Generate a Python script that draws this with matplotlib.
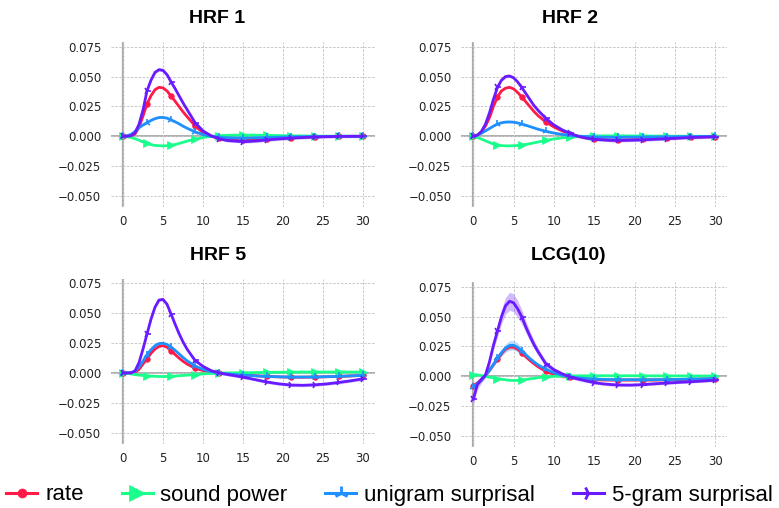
import matplotlib
matplotlib.use('Agg')
import matplotlib.pyplot as plt
import numpy as np

# time axis (s), shared by every panel
t = [0, 0.5, 1, 1.5, 2, 2.5, 3, 3.5, 4, 4.5, 5, 5.5, 6, 6.5, 7, 7.5, 8,
     9, 10, 11, 12, 13, 14, 15, 16, 17, 18, 19.5, 21, 22.5, 24, 25.5, 27, 28.5, 30]

series_names = ['rate', 'sound power', 'unigram surprisal', '5-gram surprisal']
panel_titles = ['HRF 1', 'HRF 2', 'HRF 5', 'LCG(10)']

hrf1_rate = [0, 0, 0.0003, 0.002, 0.0075, 0.017, 0.027, 0.034, 0.039, 0.041, 0.0405, 0.038, 0.0337, 0.0295, 0.025, 0.0205, 0.0165,
             0.0088, 0.003, 0.0, -0.0015, -0.0025, -0.003, -0.0033, -0.0031, -0.0027, -0.0022, -0.0016, -0.0011, -0.0007, -0.0004, -0.0002, -0.0001, 0, 0]
hrf1_sound = [0, -0.0003, -0.001, -0.002, -0.0033, -0.0047, -0.006, -0.007, -0.0076, -0.0079, -0.008, -0.0079, -0.0076, -0.0069, -0.006, -0.005, -0.004,
              -0.0025, -0.001, 0.0, 0.0005, 0.0008, 0.001, 0.001, 0.001, 0.0009, 0.0008, 0.0006, 0.0004, 0.0003, 0.0002, 0.0001, 0.0001, 0, 0]
hrf1_uni = [0, 0.0005, 0.0015, 0.004, 0.0072, 0.0095, 0.0114, 0.0133, 0.0148, 0.0157, 0.0158, 0.0152, 0.0138, 0.0122, 0.0105, 0.0085, 0.0068,
            0.0037, 0.0015, 0.0, -0.0007, -0.0012, -0.0014, -0.0015, -0.0014, -0.0012, -0.001, -0.0007, -0.0005, -0.0003, -0.0002, -0.0001, 0, 0, 0]
hrf1_5gram = [0, 0, 0.0005, 0.003, 0.010, 0.022, 0.038, 0.047, 0.0535, 0.0558, 0.0552, 0.0516, 0.0457, 0.040, 0.034, 0.028, 0.0225,
              0.0115, 0.0045, 0.0005, -0.002, -0.0035, -0.004, -0.0045, -0.0042, -0.0037, -0.003, -0.0022, -0.0015, -0.001, -0.0006, -0.0003, -0.0001, 0, 0]

hrf2_rate = [0, 0.001, 0.0035, 0.0085, 0.0155, 0.025, 0.033, 0.038, 0.0403, 0.041, 0.0397, 0.0367, 0.033, 0.029, 0.025, 0.021, 0.0175,
             0.012, 0.0078, 0.0045, 0.002, 0.0, -0.0013, -0.0022, -0.0027, -0.003, -0.003, -0.0028, -0.0025, -0.002, -0.0016, -0.0012, -0.0008, -0.0005, -0.0003]
hrf2_sound = [0, -0.001, -0.0023, -0.0038, -0.0052, -0.0064, -0.0073, -0.0078, -0.008, -0.008, -0.0079, -0.0077, -0.0073, -0.0068, -0.0062, -0.0055, -0.0048,
              -0.0034, -0.0022, -0.0013, -0.0008, -0.0003, 0.0, 0.0003, 0.0004, 0.0004, 0.0004, 0.0003, 0.0003, 0.0002, 0.0001, 0.0001, 0, 0, 0]
hrf2_uni = [0, 0.001, 0.0025, 0.0045, 0.0065, 0.0085, 0.0103, 0.0113, 0.0119, 0.012, 0.0118, 0.0112, 0.0103, 0.0093, 0.0082, 0.0071, 0.006,
            0.0042, 0.0027, 0.0016, 0.0008, 0.0002, -0.0002, -0.0005, -0.0007, -0.0008, -0.0008, -0.0007, -0.0006, -0.0005, -0.0004, -0.0003, -0.0002, -0.0001, -0.0001]
hrf2_5gram = [0, 0.001, 0.004, 0.010, 0.0195, 0.031, 0.041, 0.047, 0.050, 0.0505, 0.049, 0.0455, 0.041, 0.036, 0.031, 0.026, 0.022,
              0.015, 0.0095, 0.0055, 0.0025, 0.0, -0.0015, -0.0025, -0.003, -0.0034, -0.0035, -0.0033, -0.003, -0.0025, -0.002, -0.0015, -0.001, -0.0007, -0.0004]

hrf5_rate = [0, 0, 0, 0.0007, 0.003, 0.0075, 0.012, 0.0165, 0.020, 0.0222, 0.0228, 0.0215, 0.0186, 0.0155, 0.0125, 0.0098, 0.0075,
             0.004, 0.002, 0.0008, 0.0, -0.0005, -0.001, -0.0015, -0.002, -0.0025, -0.0029, -0.0033, -0.0035, -0.0035, -0.0034, -0.0032, -0.0029, -0.0025, -0.002]
hrf5_sound = [0, -0.0003, -0.0008, -0.0013, -0.0018, -0.0021, -0.0023, -0.0026, -0.0028, -0.0029, -0.003, -0.0029, -0.0028, -0.0026, -0.0023, -0.0021, -0.0018,
              -0.0013, -0.0008, -0.0004, -0.0002, 0, 0.0001, 0.0002, 0.0003, 0.0004, 0.0005, 0.0006, 0.0007, 0.0008, 0.0008, 0.0008, 0.0008, 0.0008, 0.0008]
hrf5_uni = [0, 0, 0.0002, 0.0015, 0.005, 0.010, 0.0153, 0.0195, 0.0228, 0.0246, 0.0249, 0.0238, 0.0217, 0.019, 0.016, 0.013, 0.0102,
            0.0058, 0.003, 0.0012, 0.0, -0.0007, -0.0013, -0.0018, -0.0022, -0.0026, -0.0029, -0.0032, -0.0034, -0.0034, -0.0033, -0.0031, -0.0028, -0.0024, -0.002]
hrf5_5gram = [0, 0, 0, 0.0017, 0.0087, 0.020, 0.0325, 0.045, 0.055, 0.061, 0.0615, 0.0575, 0.0494, 0.041, 0.033, 0.026, 0.020,
              0.0105, 0.0055, 0.002, 0.0, -0.0012, -0.0023, -0.0035, -0.0048, -0.0062, -0.0076, -0.0091, -0.0101, -0.0103, -0.0099, -0.0091, -0.0079, -0.0065, -0.0049]

lcg_rate = [-0.008, -0.0055, -0.003, 0.0008, 0.005, 0.0098, 0.0145, 0.019, 0.0228, 0.0245, 0.0245, 0.0228, 0.0198, 0.0165, 0.0135, 0.0108, 0.0083,
            0.0042, 0.0017, 0.0003, -0.0008, -0.0016, -0.0022, -0.0026, -0.0028, -0.003, -0.003, -0.003, -0.003, -0.003, -0.0028, -0.0027, -0.0025, -0.0023, -0.002]
lcg_sound = [0.0015, 0.0012, 0.0007, 0.0, -0.0007, -0.0013, -0.0018, -0.0024, -0.0029, -0.0033, -0.0035, -0.0034, -0.003, -0.0026, -0.0021, -0.0016, -0.0011,
             -0.0004, 0.0, 0.0002, 0.0003, 0.0004, 0.0005, 0.0005, 0.0005, 0.0005, 0.0005, 0.0005, 0.0005, 0.0004, 0.0004, 0.0004, 0.0003, 0.0003, 0.0003]
lcg_uni = [-0.0085, -0.006, -0.0033, 0.0006, 0.005, 0.010, 0.0152, 0.0198, 0.0237, 0.0258, 0.026, 0.0242, 0.0212, 0.018, 0.015, 0.0122, 0.0097,
           0.0059, 0.003, 0.001, -0.0003, -0.0012, -0.0018, -0.0022, -0.0025, -0.0027, -0.0028, -0.0028, -0.0028, -0.0028, -0.0027, -0.0025, -0.0023, -0.0021, -0.0018]
lcg_5gram = [-0.019, -0.007, -0.0025, 0.001, 0.012, 0.026, 0.038, 0.050, 0.059, 0.0628, 0.0615, 0.0565, 0.050, 0.0416, 0.034, 0.027, 0.021,
             0.0105, 0.0055, 0.0022, -0.0005, -0.0022, -0.0038, -0.0052, -0.0062, -0.0068, -0.0072, -0.0073, -0.0069, -0.0062, -0.0056, -0.005, -0.0045, -0.0039, -0.0032]

# half-widths of the shaded bands
lcg_5gram_err = [0.005, 0.004, 0.003, 0.002, 0.003, 0.004, 0.005, 0.006, 0.007, 0.0075, 0.0075, 0.007, 0.006, 0.005, 0.0042, 0.0036, 0.003,
                 0.0025, 0.002, 0.0016, 0.0014, 0.0013, 0.0012, 0.0012, 0.0012, 0.0012, 0.0012, 0.0012, 0.0011, 0.0011, 0.0011, 0.001, 0.001, 0.001, 0.001]
lcg_uni_err = [0.002, 0.0015, 0.001, 0.0008, 0.0012, 0.0018, 0.0025, 0.003, 0.0035, 0.004, 0.004, 0.0037, 0.003, 0.0025, 0.002, 0.0016, 0.0013,
               0.001, 0.0008, 0.0007, 0.0006, 0.0006, 0.0006, 0.0006, 0.0006, 0.0006, 0.0006, 0.0006, 0.0006, 0.0006, 0.0006, 0.0006, 0.0006, 0.0006, 0.0006]
hrf_err = [0.0006, 0.0005, 0.0006, 0.0012]   # rate, sound, unigram, 5-gram in the HRF panels
lcg_small_err = [0.0015, 0.0006]              # rate, sound in the LCG panel

panels = [
    [hrf1_rate, hrf1_sound, hrf1_uni, hrf1_5gram],
    [hrf2_rate, hrf2_sound, hrf2_uni, hrf2_5gram],
    [hrf5_rate, hrf5_sound, hrf5_uni, hrf5_5gram],
    [lcg_rate, lcg_sound, lcg_uni, lcg_5gram],
]

colors = ['#ff1a48', '#1aff8c', '#1e90ff', '#6a1aff']
markers = ['o', '>', '2', '4']
msizes = [4, 6, 6, 6]
medges = [0.5, 0.5, 1.2, 1.2]

W, H = 779, 508
fig = plt.figure(figsize=(W / 100, H / 100), dpi=100)

# axes boxes in pixels: left, top, right, bottom
boxes = [(111, 41.9, 375, 206.8), (461.2, 41.9, 727.2, 206.8),
         (111, 278.5, 375, 443.5), (461.2, 281.9, 727.2, 446.9)]
title_pos = [(217, 23.3), (570, 23.3), (218, 260), (569, 260.5)]

tt = np.array(t)
mark_idx = [i for i, v in enumerate(t) if v % 3 == 0]
yfmt = matplotlib.ticker.FuncFormatter(lambda v, pos: ('%.3f' % v).replace('-', '\u2212'))

for p, (box, data) in enumerate(zip(boxes, panels)):
    l, tp, r, b = box
    ax = fig.add_axes([l / W, 1 - b / H, (r - l) / W, (b - tp) / H])
    for s in ax.spines.values():
        s.set_visible(False)
    ax.set_xlim(-1.5, 31.5)
    ax.set_ylim(-0.059, 0.079)
    ax.set_xticks([0, 5, 10, 15, 20, 25, 30])
    ax.set_yticks([-0.05, -0.025, 0, 0.025, 0.05, 0.075])
    ax.yaxis.set_major_formatter(yfmt)
    ax.tick_params(length=0, labelsize=8.5, colors='#222222')
    ax.tick_params(axis='y', pad=7)
    ax.tick_params(axis='x', pad=6)
    ax.grid(True, color='#c8c8c8', linestyle=(0, (2.5, 1.5)), linewidth=0.7)
    ax.axhline(0, color='#999999', linewidth=1.1, zorder=1)
    ax.axvline(0, color='#aaaaaa', linewidth=1.6, zorder=1)

    for k, vals in enumerate(data):
        y = np.array(vals)
        if p == 3:
            if k == 3:
                e = np.array(lcg_5gram_err)
            elif k == 2:
                e = np.array(lcg_uni_err)
            else:
                e = lcg_small_err[k]
        else:
            e = hrf_err[k]
        ax.fill_between(tt, y - e, y + e, color=colors[k], alpha=0.3, linewidth=0, zorder=2)
        ax.plot(tt, y, color=colors[k], lw=2, marker=markers[k], markersize=msizes[k],
                markeredgewidth=medges[k], markevery=mark_idx, zorder=3)

    fig.text(title_pos[p][0] / W, 1 - title_pos[p][1] / H, panel_titles[p],
             ha='center', va='baseline', fontsize=14, fontweight='bold', family='Liberation Sans')

handles = [matplotlib.lines.Line2D([], [], color=colors[k], lw=2.2, marker=markers[k],
                                   markersize=[6.5, 11, 10, 10][k], markeredgewidth=[0.5, 0.5, 2, 2][k])
           for k in range(4)]
fig.legend(handles, series_names, loc='center', bbox_to_anchor=(0.5, 1 - 495 / H), ncol=4,
           frameon=False, prop={'family': 'Liberation Sans', 'size': 16},
           handlelength=1.4, handletextpad=0.35, columnspacing=1.7, borderpad=0, borderaxespad=0)

fig.savefig('out.png', dpi=100)
